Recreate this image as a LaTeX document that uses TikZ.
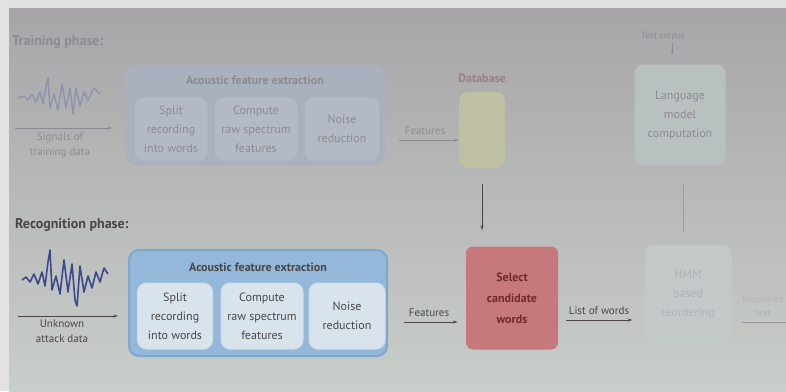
\documentclass[tikz,border=0pt]{standalone}
\usepackage{fontspec}
\setmainfont{PT Sans}
\usetikzlibrary{arrows.meta}
\definecolor{bgtop}{HTML}{A8A5A8}
\definecolor{bgbot}{HTML}{C8CEca}
\definecolor{fadetxt}{HTML}{8E8A92}
\definecolor{fadebox}{HTML}{A9B0BE}
\definecolor{fadeinner}{HTML}{B3BAC5}
\definecolor{fadeline}{HTML}{8A8890}
\definecolor{bluebox}{HTML}{93B8D9}
\definecolor{blueedge}{HTML}{7FA6CF}
\definecolor{blueinner}{HTML}{D9E3EC}
\definecolor{darktxt}{HTML}{4A4648}
\definecolor{redbox}{HTML}{C7787A}
\definecolor{redtxt}{HTML}{6E2A2E}
\definecolor{dbfill}{HTML}{BFC0A2}
\definecolor{lmfill}{HTML}{B9C0C0}
\definecolor{hmmfill}{HTML}{C3C9C9}
\definecolor{hmmtxt}{HTML}{AEB4B6}
\definecolor{wave}{HTML}{3C4A8C}
\definecolor{fadewave}{HTML}{8D92AE}
\tikzset{
  outerbox/.style={draw=#1, line width=2pt, rounded corners=10pt, minimum width=258pt, minimum height=104pt, inner sep=0pt},
  innerbox/.style={rounded corners=9pt, line width=1pt, inner sep=0pt, align=center, font=\fontsize{12}{19}\selectfont},
  lbl/.style={align=center, font=\fontsize{11}{15}\selectfont, inner sep=1pt},
  arr/.style={-{Stealth[length=5pt,width=3pt]}, line width=1pt},
  title/.style={font=\bfseries\fontsize{12}{14}\selectfont, inner sep=0pt},
}
\begin{document}
\begin{tikzpicture}[x=1pt,y=-1pt]
\useasboundingbox (0,0) rectangle (786,391);
\clip (0,0) rectangle (786,391);
% background
\fill[top color=bgtop, bottom color=bgbot] (9,8) rectangle (786,391);
\fill[color={rgb,255:red,226;green,226;blue,226}] (0,0) rectangle (9,391);
\fill[color={rgb,255:red,224;green,224;blue,224}] (9,0) rectangle (786,8);

% ================= Training phase (faded) =================
\node[anchor=west, font=\bfseries\fontsize{14}{16}\selectfont, text=fadetxt, inner sep=0pt] (tphase) at (12,42) {Training phase:};

\draw[fadewave, line width=1.4pt, line join=round]
 (18,98) -- (24,96) -- (28,100) -- (32,94) -- (36,102) -- (40,92) -- (43,104) -- (46,86) -- (48,78) -- (50,108)
 -- (54,94) -- (58,110) -- (62,84) -- (66,108) -- (70,88) -- (73,114) -- (76,88) -- (80,106) -- (84,92) -- (88,100) -- (94,88) -- (100,94);
\coordinate (tw0) at (15,128);
\coordinate (tw1) at (112,128);
\draw[arr, fadeline] (tw0) -- (tw1);
\node[lbl, text=fadetxt, anchor=north] (tsig) at (60,131) {Signals of\\training data};

\node[outerbox=fadebox, fill=fadebox, minimum width=258pt, minimum height=98pt] (tafe) at (255,115) {};
\node[title, text=fadetxt] (tafet) at (255,80) {Acoustic feature extraction};
\node[innerbox, fill=fadeinner, draw=fadeinner, minimum width=72pt, minimum height=62pt, text=fadetxt] (ts1) at (171,129) {Split\\recording\\into words};
\node[innerbox, fill=fadeinner, draw=fadeinner, minimum width=82pt, minimum height=62pt, text=fadetxt] (ts2) at (256,129) {Compute\\raw spectrum\\features};
\node[innerbox, fill=fadeinner, draw=fadeinner, minimum width=74pt, minimum height=62pt, text=fadetxt] (ts3) at (342,129) {Noise\\reduction};

\node[font=\bfseries\fontsize{12}{14}\selectfont, text={rgb,255:red,150;green,128;blue,136}, inner sep=0pt] (dbt) at (482,78) {Database};
\node[fill=dbfill, rounded corners=9pt, minimum width=46pt, minimum height=76pt, inner sep=0pt] (db) at (482,130) {};
\draw[arr, fadeline] (tafe.east |- 0,140) ++(14,0) coordinate (tf0) -- (db.west |- 0,140) coordinate (tf1);
\node[lbl, text=fadetxt, anchor=south] (tfeat) at (425,136) {Features};

\node[font=\fontsize{9}{10}\selectfont, text=fadetxt, inner sep=0pt] (corpus) at (663,36) {Text corpus};
\node[innerbox, fill=lmfill, draw=lmfill, minimum width=90pt, minimum height=100pt, text=fadetxt] (lm) at (680,115) {Language\\model\\computation};
\draw[fadeline, line width=0.8pt, -{Stealth[length=3pt,width=2pt]}] (corpus.south -| 672,0) ++(0,3) -- (672,55);

% ================= Recognition phase =================
\node[anchor=west, font=\bfseries\fontsize{14}{16}\selectfont, text=darktxt, inner sep=0pt] (rphase) at (15,225) {Recognition phase:};

\draw[wave, line width=1.6pt, line join=round]
 (22,280) -- (26,277) -- (30,282) -- (34,274) -- (38,284) -- (42,272) -- (45,286) -- (48,262) -- (50,250) -- (52,290)
 -- (56,276) -- (60,294) -- (64,260) -- (68,292) -- (72,264) -- (75,300) -- (77,306) -- (80,266) -- (84,292) -- (88,276)
 -- (92,288) -- (96,272) -- (100,282) -- (104,268) -- (108,274);
\coordinate (rw0) at (18,316);
\coordinate (rw1) at (118,316);
\draw[arr, darktxt] (rw0) -- (rw1);
\node[lbl, text=darktxt, anchor=north] (rsig) at (62,319) {Unknown\\attack data};

\node[outerbox=blueedge, fill=bluebox, minimum width=258pt, minimum height=106pt] (rafe) at (258,303) {};
\node[title, text=darktxt] (rafet) at (258,267) {Acoustic feature extraction};
\node[innerbox, fill=blueinner, draw=blueinner!85!bluebox, minimum width=75pt, minimum height=66pt, text=darktxt] (rs1) at (175,316) {Split\\recording\\into words};
\node[innerbox, fill=blueinner, draw=blueinner!85!bluebox, minimum width=82pt, minimum height=66pt, text=darktxt] (rs2) at (262,316) {Compute\\raw spectrum\\features};
\node[innerbox, fill=blueinner, draw=blueinner!85!bluebox, minimum width=76pt, minimum height=66pt, text=darktxt] (rs3) at (347,316) {Noise\\reduction};

\node[fill=redbox, rounded corners=7pt, minimum width=92pt, minimum height=103pt, inner sep=0pt, align=center,
      font=\bfseries\fontsize{12}{21}\selectfont, text=redtxt] (sel) at (512,298) {Select\\candidate\\words};

\draw[arr, darktxt] ([xshift=16pt]rafe.east |- 0,322) coordinate (rf0) -- ([xshift=-8pt]sel.west |- 0,322) coordinate (rf1);
\node[lbl, text=darktxt, anchor=south] (rfeat) at (429,318) {Features};

\coordinate (d0) at ([yshift=-16pt]db.south);
\draw[arr, darktxt] (d0) -- ([yshift=16pt]d0 |- sel.north) coordinate (d1);

\node[innerbox, fill=hmmfill, draw=hmmfill, minimum width=86pt, minimum height=100pt, text=hmmtxt] (hmm) at (688,295) {HMM\\based\\reordering};
\draw[arr, darktxt] ([xshift=8pt]sel.east |- 0,320) coordinate (l0) -- ([xshift=-12pt]hmm.west |- 0,320) coordinate (l1);
\node[lbl, text=darktxt, anchor=south] (lw) at (599,316) {List of words};

\coordinate (m0) at ([yshift=-18pt]lm.south -| 683,0);
\draw[line width=0.8pt, color=fadeline!70!bgbot] (m0) -- ([yshift=13pt]m0 |- hmm.north) coordinate (m1);

\node[align=center, font=\fontsize{9.5}{14}\selectfont, inner sep=1pt, text=hmmtxt, anchor=south] (rec) at (763,318) {Recovered\\text};
\draw[line width=1pt, color=fadeline!80!bgbot] ([xshift=10pt]hmm.east |- 0,322) coordinate (r0) -- (790,322) coordinate (r1);
\end{tikzpicture}
\end{document}
